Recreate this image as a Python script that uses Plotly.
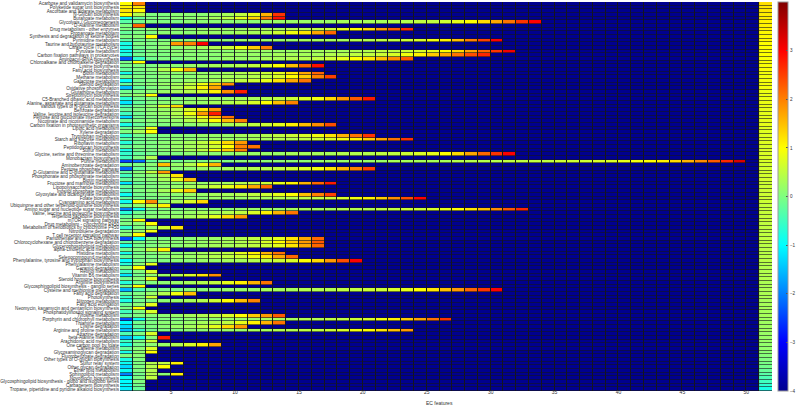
import plotly.graph_objects as go
import numpy as np

pathways = [
    "Acarbose and validamycin biosynthesis", "Polyketide sugar unit biosynthesis",
    "Ascorbate and aldarate metabolism", "N-Glycan biosynthesis", "Butanoate metabolism",
    "Glycolysis / Gluconeogenesis", "D-Alanine metabolism", "Drug metabolism - other enzymes",
    "Propanoate metabolism", "Synthesis and degradation of ketone bodies", "Pyrimidine metabolism",
    "Taurine and hypotaurine metabolism", "Citrate cycle (TCA cycle)", "Pyruvate metabolism",
    "Carbon fixation pathways in prokaryotes", "Aminoacyl-tRNA biosynthesis",
    "Chloroalkane and chloroalkene degradation", "Lysine biosynthesis", "Fatty acid biosynthesis",
    "Biotin metabolism", "Methane metabolism", "Galactose metabolism", "Steroid degradation",
    "Oxidative phosphorylation", "Glutathione metabolism", "Streptomycin biosynthesis",
    "C5-Branched dibasic acid metabolism", "Alanine, aspartate and glutamate metabolism",
    "Various types of N-glycan biosynthesis", "Benzoate degradation",
    "Valine, leucine and isoleucine degradation", "Pentose and glucuronate interconversions",
    "Nicotinate and nicotinamide metabolism", "Carbon fixation in photosynthetic organisms",
    "Lipoic acid metabolism", "Xylene degradation", "Tryptophan metabolism",
    "Starch and sucrose metabolism", "Riboflavin metabolism", "Peptidoglycan biosynthesis",
    "Sulfur metabolism", "Glycine, serine and threonine metabolism", "Monobactam biosynthesis",
    "Purine metabolism", "Aminobenzoate degradation", "Pentose phosphate pathway",
    "D-Glutamine and D-glutamate metabolism", "Phosphonate and phosphinate metabolism",
    "Biotin metabolism", "Fructose and mannose metabolism", "Lipopolysaccharide biosynthesis",
    "Inositol phosphate metabolism", "Glyoxylate and dicarboxylate metabolism",
    "Folate biosynthesis", "Cyanoamino acid metabolism",
    "Ubiquinone and other terpenoid-quinone biosynthesis",
    "Amino sugar and nucleotide sugar metabolism", "Valine, leucine and isoleucine biosynthesis",
    "Terpenoid backbone biosynthesis", "mTOR signaling pathway", "Drug metabolism - cytochrome P450",
    "Metabolism of xenobiotics by cytochrome P450", "Nitrotoluene degradation",
    "T cell receptor signaling pathway", "Pantothenate and CoA biosynthesis",
    "Chlorocyclohexane and chlorobenzene degradation", "Glycerophospholipid metabolism",
    "alpha-Linolenic acid metabolism", "Histidine metabolism", "Selenocompound metabolism",
    "Phenylalanine, tyrosine and tryptophan biosynthesis", "Phenylalanine metabolism",
    "Geraniol degradation", "Retinol metabolism", "Vitamin B6 metabolism",
    "Steroid hormone biosynthesis", "Arginine biosynthesis",
    "Glycosphingolipid biosynthesis - ganglio series", "Cysteine and methionine metabolism",
    "Fatty acid degradation", "Photosynthesis", "Nitrogen metabolism", "Fatty acid elongation",
    "Neomycin, kanamycin and gentamicin biosynthesis", "Phosphatidylinositol signaling system",
    "Tyrosine metabolism", "Porphyrin and chlorophyll metabolism", "Thiamine metabolism",
    "Lysine degradation", "Arginine and proline metabolism", "Atrazine degradation",
    "beta-Alanine metabolism", "Arachidonic acid metabolism", "One carbon pool by folate",
    "Caffeine metabolism", "Glycosaminoglycan degradation", "Fluorobenzoate degradation",
    "Other types of O-glycan biosynthesis", "Sulfur relay system", "Other glycan degradation",
    "Ether lipid metabolism", "Sphingolipid metabolism", "Novobiocin biosynthesis",
    "Glycosphingolipid biosynthesis - globo and isoglobo series", "Carbapenem biosynthesis",
    "Tropane, piperidine and pyridine alkaloid biosynthesis",
]

# values of the filled EC cells of each pathway, left to right (rest is background)
row_values = [
    [1.0, 2.0],
    [1.1, 1.2],
    [1.2, 1.0],
    [1.0, 0.4, 0.0, 0.0, 0.1, 0.1, 0.1, 0.2, 0.3, 0.5, 0.8, 1.6, 2.6],
    [-0.9, -0.2, 0.0, 0.0, 0.1, 0.1, 0.2, 0.3, 0.5, 0.8, 1.3, 2.1, 2.9],
    [-0.3, -0.1, 0.0, 0.0, 0.0, 0.1, 0.1, 0.1, 0.1, 0.1, 0.1, 0.2, 0.2, 0.2, 0.2, 0.2, 0.2,
     0.3, 0.3, 0.3, 0.3, 0.4, 0.4, 0.5, 0.5, 0.6, 0.8, 1.0, 1.3, 1.7, 2.1, 2.6, 3.0],
    [0.0, 2.2],
    [0.0, 0.0, 0.1, 0.1, 0.1, 0.1, 0.2, 0.2, 0.2, 0.2, 0.3, 0.3, 0.3, 0.4, 0.4, 0.5, 0.6,
     0.8, 1.0, 1.3, 1.8, 2.3, 2.7],
    [-0.2, 0.0, 0.0, 0.1, 0.1, 0.1, 0.2, 0.2, 0.2, 0.3, 0.3, 0.4, 0.6, 0.9, 1.2, 1.7, 2.2],
    [0.0, 0.1, 1.0],
    [-0.3, -0.1, 0.0, 0.0, 0.1, 0.1, 0.1, 0.1, 0.1, 0.2, 0.2, 0.2, 0.2, 0.2, 0.3, 0.3, 0.3,
     0.3, 0.4, 0.4, 0.5, 0.5, 0.6, 0.7, 0.9, 1.1, 1.5, 2.0, 2.5, 3.0],
    [-0.8, 0.0, 0.0, 0.1, 1.8, 2.0, 3.0],
    [-0.8, -0.1, 0.0, 0.1, 0.1, 0.2, 0.3, 0.4, 0.6, 0.9, 1.4, 2.0],
    [-0.9, -0.2, 0.0, 0.0, 0.1, 0.1, 0.1, 0.1, 0.1, 0.2, 0.2, 0.2, 0.2, 0.2, 0.3, 0.3, 0.3,
     0.3, 0.4, 0.4, 0.5, 0.5, 0.6, 0.7, 0.8, 1.0, 1.3, 1.7, 2.2, 2.6, 3.1],
    [-0.7, -0.1, 0.0, 0.0, 0.1, 0.1, 0.1, 0.1, 0.2, 0.2, 0.2, 0.2, 0.3, 0.3, 0.3, 0.3, 0.4,
     0.4, 0.5, 0.5, 0.6, 0.7, 0.9, 1.1, 1.4, 1.7, 2.1, 2.4, 2.7],
    [-2.3, -0.6, -0.1, 0.0, 0.0, 0.1, 0.1, 0.1, 0.2, 0.2, 0.2, 0.3, 0.3, 0.4, 0.4, 0.5, 0.6,
     0.8, 1.0, 1.2, 1.5, 1.9, 2.3],
    [0.0, 1.0],
    [-0.1, 0.0, 0.0, 0.1, 0.1, 0.2, 0.2, 0.3, 0.3, 0.4, 0.5, 0.7, 1.0, 1.5, 2.2, 2.9],
    [-0.2, 0.0, 0.1, 0.4, 0.9, 1.6],
    [-0.8, -0.1, 0.0, 0.1, 0.1, 0.1, 0.2, 0.2, 0.3, 0.4, 0.5, 0.6, 0.8, 1.2, 1.7, 2.2],
    [-0.1, 0.0, 0.0, 0.1, 0.1, 0.1, 0.2, 0.2, 0.3, 0.3, 0.4, 0.5, 0.7, 1.0, 1.4, 2.0, 2.5],
    [-1.0, -0.1, 0.0, 0.1, 0.1, 0.2, 0.2, 0.3, 0.4, 0.5, 0.6, 0.8, 1.2, 1.7, 2.1],
    [-0.2, 0.0, 0.1, 0.2, 0.3, 0.5, 0.9, 1.4, 1.9],
    [-1.5, -0.2, 0.0, 0.1, 0.3, 0.6, 1.1, 1.7],
    [-0.1, 0.0, 0.1, 0.2, 0.3, 0.4, 0.6, 1.1, 1.9, 2.8],
    [0.0, 0.2, 1.0],
    [-0.7, -0.1, 0.0, 0.0, 0.1, 0.1, 0.2, 0.2, 0.2, 0.3, 0.3, 0.4, 0.5, 0.6, 0.7, 0.9, 1.3,
     1.8, 2.3, 2.8],
    [-1.2, -0.2, 0.0, 0.1, 0.1, 0.2, 0.2, 0.3, 0.4, 0.5, 0.7, 1.0, 1.5, 2.0],
    [-0.4, 0.0, 0.2, 0.7, 1.3],
    [-0.2, 0.0, 0.1, 0.2, 0.4, 0.7, 1.2, 1.8],
    [-0.5, -0.1, 0.1, 0.2, 0.4, 0.9, 1.8, 2.8],
    [-1.3, -0.1, 0.0, 0.1, 0.3, 0.5, 0.9, 1.5, 2.1],
    [-0.2, 0.0, 0.1, 0.1, 0.2, 0.4, 0.6, 1.0, 1.5, 2.0],
    [-0.8, -0.2, 0.0, 0.0, 0.1, 0.1, 0.2, 0.2, 0.3, 0.4, 0.5, 0.6, 0.8, 1.1, 1.5, 1.9, 2.4],
    [-0.1, 0.1, 0.9],
    [0.0, 0.3, 1.0],
    [-0.6, -0.1, 0.0, 0.0, 0.1, 0.1, 0.2, 0.2, 0.2, 0.3, 0.3, 0.4, 0.5, 0.6, 0.7, 0.9, 1.2,
     1.6, 2.1, 2.6],
    [-0.2, -0.1, 0.0, 0.0, 0.1, 0.1, 0.1, 0.2, 0.2, 0.2, 0.3, 0.3, 0.4, 0.4, 0.5, 0.6, 0.7,
     0.9, 1.1, 1.4, 1.7, 2.1, 2.6],
    [-0.7, -0.1, 0.0, 0.1, 0.2, 0.3, 0.5, 0.8, 1.3, 1.8],
    [-0.2, 0.0, 0.0, 0.1, 0.2, 0.3, 0.4, 0.6, 1.0, 2.0, 2.1],
    [-0.8, -0.1, 0.0, 0.1, 0.2, 0.3, 0.5, 0.9, 1.4, 2.0],
    [-0.6, -0.2, -0.1, 0.0, 0.0, 0.1, 0.1, 0.1, 0.1, 0.2, 0.2, 0.2, 0.2, 0.3, 0.3, 0.3, 0.3,
     0.4, 0.4, 0.4, 0.5, 0.5, 0.6, 0.7, 0.8, 1.0, 1.3, 1.7, 2.2, 2.6, 3.0],
    [-0.5, 0.0, 0.4],
    [-2.5, -2.2, -0.2, -0.1, -0.1, 0.0, 0.0, 0.0, 0.0, 0.1, 0.1, 0.1, 0.1, 0.1, 0.1, 0.2,
     0.2, 0.2, 0.2, 0.2, 0.2, 0.3, 0.3, 0.3, 0.3, 0.3, 0.4, 0.4, 0.4, 0.4, 0.5, 0.5, 0.5,
     0.5, 0.6, 0.6, 0.6, 0.7, 0.7, 0.8, 0.9, 1.0, 1.1, 1.3, 1.6, 1.9, 2.3, 2.7, 3.3],
    [-0.1, 0.0, 0.1, 1.5, 0.2, 0.4, 0.9, 1.6],
    [-2.2, -0.2, 0.0, 0.0, 0.1, 0.1, 0.2, 0.2, 0.3, 0.3, 0.4, 0.4, 0.5, 0.6, 0.7, 0.9, 1.2,
     1.6, 2.0, 2.5],
    [-0.2, 0.1, 0.5, 1.8],
    [-0.5, 0.0, 0.1, 0.4, 1.2],
    [-0.2, 0.0, 0.1, 0.3, 0.8, 1.5],
    [-1.2, -0.2, 0.0, 0.1, 0.1, 0.2, 0.2, 0.3, 0.3, 0.4, 0.5, 0.6, 0.8, 1.1, 1.6, 2.2, 2.8],
    [-0.2, 0.0, 0.0, 0.1, 0.2, 0.3, 0.4, 0.6, 0.8, 1.2, 1.7, 2.2],
    [-0.4, 0.0, 0.1, 0.3, 0.8, 1.4],
    [-0.9, -0.1, 0.0, 0.1, 0.1, 0.2, 0.2, 0.3, 0.3, 0.4, 0.5, 0.6, 0.8, 1.0, 1.5, 2.0, 2.5],
    [-0.2, -0.1, 0.0, 0.0, 0.1, 0.1, 0.1, 0.2, 0.2, 0.2, 0.3, 0.3, 0.4, 0.4, 0.5, 0.5, 0.6,
     0.7, 0.9, 1.1, 1.4, 1.9, 2.4, 3.0],
    [-0.9, 1.0, 1.9, 0.1, 0.3, 0.7, 1.3],
    [-0.2, 0.1, 0.5, 1.1],
    [-2.0, -0.9, -0.1, 0.0, 0.0, 0.1, 0.1, 0.1, 0.1, 0.2, 0.2, 0.2, 0.2, 0.3, 0.3, 0.3, 0.3,
     0.4, 0.4, 0.4, 0.5, 0.5, 0.6, 0.6, 0.7, 0.8, 1.0, 1.2, 1.5, 1.9, 2.3, 2.7],
    [-0.7, -0.1, 0.0, 0.1, 0.1, 0.2, 0.3, 0.3, 0.4, 0.5, 0.7, 1.1, 1.6, 2.1],
    [-0.2, 0.0, 0.1, 0.1, 0.2, 0.3, 0.5, 0.8, 1.3, 1.8],
    [0.0, 1.0],
    [0.0, 0.1, 1.0],
    [-0.6, 0.0, 0.2, 0.6, 1.2],
    [0.0, 0.2, 0.9],
    [0.1, 1.0],
    [-2.4, -1.0, 0.0, 0.0, 0.1, 0.1, 0.2, 0.2, 0.3, 0.4, 0.5, 0.6, 0.8, 1.2, 1.7, 2.2],
    [-0.2, 0.0, 0.0, 0.1, 0.1, 0.2, 0.2, 0.3, 0.3, 0.4, 0.5, 0.7, 1.0, 1.4, 1.8, 2.3],
    [-0.9, -0.1, 0.0, 0.1, 0.1, 0.2, 0.2, 0.3, 0.3, 0.4, 0.5, 0.6, 0.8, 1.2, 1.7, 2.2],
    [-0.1, 0.1, 0.5, 1.1],
    [-0.8, -0.1, 0.0, 0.1, 0.1, 0.2, 0.3, 0.4, 0.5, 0.8, 1.1, 1.6, 2.1],
    [-0.2, 0.0, 0.0, 0.1, 0.2, 0.2, 0.3, 0.4, 0.5, 0.6, 0.9, 1.2, 1.7, 2.2],
    [-1.0, -0.1, 0.0, 0.0, 0.1, 0.1, 0.2, 0.2, 0.3, 0.3, 0.4, 0.5, 0.6, 0.7, 1.0, 1.3, 1.8,
     2.4, 3.0],
    [-0.7, 0.1, 0.8],
    [0.0, 1.0],
    [-0.5, 0.0, 0.7],
    [-1.2, -0.1, 0.1, 0.2, 0.4, 0.7, 1.2, 1.9],
    [-0.1, 0.1, 0.8],
    [-0.7, -0.1, 0.0, 0.1, 0.2, 0.3, 0.4, 0.5, 0.8, 1.1, 1.6, 2.1],
    [0.0, 1.0],
    [-1.6, -0.4, -0.1, 0.0, 0.0, 0.1, 0.1, 0.1, 0.2, 0.2, 0.2, 0.3, 0.3, 0.3, 0.4, 0.4, 0.4,
     0.5, 0.5, 0.6, 0.6, 0.7, 0.8, 1.0, 1.2, 1.5, 1.8, 2.2, 2.6, 3.0],
    [-0.2, 0.0, 0.2, 0.4, 0.9, 1.5],
    [-0.6, 0.0, 0.6],
    [-0.8, -0.1, 0.0, 0.1, 0.2, 0.3, 0.4, 0.6, 1.0, 1.5, 2.0],
    [-0.2, 0.1, 0.8],
    [0.0, 1.0],
    [-0.5, 0.0, 0.7],
    [-0.2, 0.0, 0.1, 0.1, 0.2, 0.3, 0.4, 0.5, 0.7, 1.0, 1.4, 1.8, 2.3],
    [-2.4, -0.9, -0.1, 0.0, 0.0, 0.1, 0.1, 0.1, 0.2, 0.2, 0.2, 0.3, 0.3, 0.3, 0.4, 0.4, 0.5,
     0.5, 0.6, 0.7, 0.9, 1.1, 1.4, 1.7, 2.1, 2.6],
    [-1.0, -0.1, 0.0, 0.1, 0.1, 0.2, 0.3, 0.4, 0.5, 0.8, 1.1, 1.6, 2.1],
    [-1.3, -0.2, 0.0, 0.1, 0.2, 0.3, 0.5, 0.8, 1.3, 1.8],
    [-1.5, -0.6, -0.1, 0.0, 0.0, 0.1, 0.1, 0.2, 0.2, 0.2, 0.3, 0.3, 0.4, 0.4, 0.5, 0.5, 0.6,
     0.7, 0.9, 1.0, 1.2, 1.5, 1.8],
    [-0.4, 0.0, 0.7],
    [-1.5, -0.8, 0.1, 2.8],
    [-0.5, 0.0, 0.6],
    [-0.8, -0.1, 0.1, 0.2, 0.4, 0.7, 1.1, 1.7],
    [-0.2, 0.1, 0.7],
    [-0.8, 0.1, 1.0],
    [0.0, 0.1],
    [-0.8, 0.0],
    [-0.9, 0.0, 0.4, 0.5, 1.1],
    [-1.3, 0.0, 0.4, 1.0],
    [-0.9, 0.0, 0.4],
    [-2.0, -0.1, 0.4, 0.1, 1.1],
    [-0.9, 0.0, 0.5],
    [-1.0, 0.0],
    [-1.0, -0.1],
    [-1.1, -0.2],
]

# single right-hand column, one value per pathway
side_values = [
    1.25, 1.2, 1.2, 1.15, 1.15, 1.1, 1.1, 1.1, 1.05, 1.05,
    1.05, 1.0, 1.0, 1.0, 1.0, 0.95, 0.95, 0.95, 0.95, 0.9,
    0.9, 0.9, 0.9, 0.9, 0.85, 0.85, 0.85, 0.85, 0.85, 0.8,
    0.8, 0.8, 0.8, 0.8, 0.75, 0.75, 0.75, 0.75, 0.75, 0.7,
    0.7, 0.7, 0.7, 0.7, 0.65, 0.65, 0.65, 0.65, 0.65, 0.6,
    0.6, 0.6, 0.6, 0.6, 0.6, 0.55, 0.55, 0.55, 0.55, 0.55,
    0.5, 0.5, 0.5, 0.5, 0.5, 0.5, 0.45, 0.45, 0.45, 0.45,
    0.45, 0.4, 0.4, 0.4, 0.4, 0.4, 0.35, 0.35, 0.35, 0.35,
    0.35, 0.3, 0.3, 0.3, 0.3, 0.3, 0.25, 0.25, 0.25, 0.25,
    0.2, 0.2, 0.2, 0.15, 0.15, 0.1, 0.05, 0.0, -0.05, -0.1,
    -0.2, -0.3, -0.4, -0.5, -0.65, -0.8,
]
ec_ticks = [5, 10, 15, 20, 25, 30, 35, 40, 45, 50]
cbar_ticks = [-4, -3, -2, -1, 0, 1, 2, 3, 4]

n_rows = len(pathways)
n_cols = 50
background = -4.0
z = np.full((n_rows, n_cols), background)
for i, vals in enumerate(row_values):
    z[i, :len(vals)] = vals

jet = [[0.0, "#00008F"], [0.125, "#0000FF"], [0.375, "#00FFFF"], [0.625, "#FFFF00"],
       [0.875, "#FF0000"], [1.0, "#800000"]]

ylab = list(range(n_rows))
fig = go.Figure()
fig.add_trace(go.Heatmap(
    z=z, x=np.arange(1, n_cols + 1) + 0.5, y=ylab, colorscale=jet, zmin=-4, zmax=4,
    xgap=1, ygap=0.6,
    colorbar=dict(x=1.009, xanchor="left", thickness=10, lenmode="fraction", len=1.0,
                  y=0.5, yanchor="middle", tickvals=cbar_ticks,
                  tickfont=dict(size=4.6, color="#333"), ticks="inside", ticklen=2,
                  tickcolor="#555", outlinecolor="#999", outlinewidth=1, xpad=0, ypad=0),
))
fig.add_trace(go.Heatmap(
    z=[[v] for v in side_values], x=[1], y=ylab, colorscale=jet, zmin=-4, zmax=4,
    xgap=0, ygap=0.6, showscale=False, xaxis="x2", yaxis="y",
))
fig.update_layout(
    width=800, height=406, margin=dict(l=120, r=24, t=2, b=15),
    paper_bgcolor="white", plot_bgcolor="#141420",
    font=dict(family="Liberation Sans, Arial, sans-serif", color="#333"),
    xaxis=dict(domain=[0, 0.9802], range=[1, 51], tickvals=ec_ticks, ticks="",
               tickfont=dict(size=5), showgrid=False, zeroline=False,
               ticklabelstandoff=-3, automargin=False),
    xaxis2=dict(domain=[0.9802, 1.0], range=[0.5, 1.5], showticklabels=False,
                showgrid=False, zeroline=False, automargin=False),
    yaxis=dict(range=[n_rows - 0.5, -0.5], tickvals=ylab, ticktext=pathways,
               tickfont=dict(size=4.6), showgrid=False, zeroline=False, ticks="",
               automargin=False),
    annotations=[dict(text="EC features", x=0.5, xref="x domain", y=-0.031, yref="paper",
                      yanchor="middle", showarrow=False, font=dict(size=5, color="#333"))],
)
fig.write_html("out.html", config={"displayModeBar": False},
               post_script="document.body.style.margin='0';")
